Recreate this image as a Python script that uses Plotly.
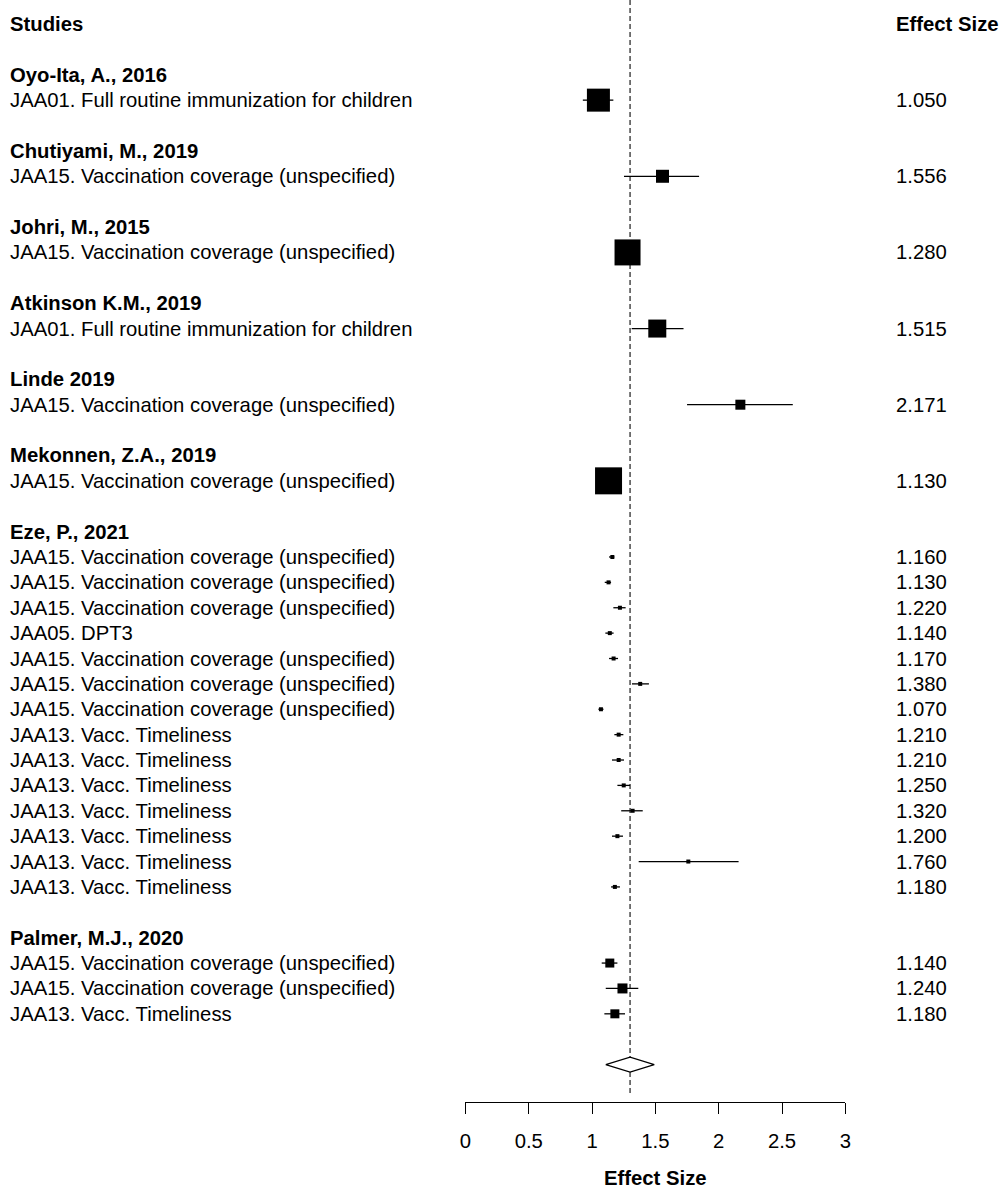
import plotly.graph_objects as go

# ---------------- data ----------------
study_names = ["Oyo-Ita, A., 2016", "Chutiyami, M., 2019", "Johri, M., 2015",
               "Atkinson K.M., 2019", "Linde 2019", "Mekonnen, Z.A., 2019",
               "Eze, P., 2021", "Palmer, M.J., 2020"]

outcomes = [
    ["JAA01. Full routine immunization for children"],
    ["JAA15. Vaccination coverage (unspecified)"],
    ["JAA15. Vaccination coverage (unspecified)"],
    ["JAA01. Full routine immunization for children"],
    ["JAA15. Vaccination coverage (unspecified)"],
    ["JAA15. Vaccination coverage (unspecified)"],
    ["JAA15. Vaccination coverage (unspecified)"] * 3 + ["JAA05. DPT3"]
    + ["JAA15. Vaccination coverage (unspecified)"] * 3
    + ["JAA13. Vacc. Timeliness"] * 7,
    ["JAA15. Vaccination coverage (unspecified)"] * 2 + ["JAA13. Vacc. Timeliness"],
]

effects = [
    [1.050], [1.556], [1.280], [1.515], [2.171], [1.130],
    [1.160, 1.130, 1.220, 1.140, 1.170, 1.380, 1.070,
     1.210, 1.210, 1.250, 1.320, 1.200, 1.760, 1.180],
    [1.140, 1.240, 1.180],
]
ci_lower = [
    [0.927], [1.252], [1.20], [1.313], [1.750], [1.05],
    [1.134, 1.100, 1.168, 1.105, 1.134, 1.315, 1.050,
     1.176, 1.157, 1.200, 1.230, 1.157, 1.368, 1.150],
    [1.076, 1.108, 1.097],
]
ci_upper = [
    [1.168], [1.845], [1.36], [1.722], [2.585], [1.21],
    [1.176, 1.150, 1.265, 1.170, 1.205, 1.449, 1.090,
     1.247, 1.252, 1.300, 1.400, 1.244, 2.157, 1.220],
    [1.200, 1.365, 1.260],
]
# relative weights (drawn as box size)
weights = [
    [23], [13], [26], [18], [10], [27],
    [4] * 14,
    [9, 10, 9],
]

pooled_est = 1.30
pooled_lower = 1.108
pooled_upper = 1.491

x_ticks = [0, 0.5, 1, 1.5, 2, 2.5, 3]
x_tick_labels = ["0", "0.5", "1", "1.5", "2", "2.5", "3"]

# ---------------- layout helpers ----------------
W, H = 1004, 1188
ROW_PX = 25.38
ROW0_PX = 24.0          # pixel y of row 0 ("Studies" header)
AXIS_PX = 1102          # pixel y of x-axis line
X0_PX, X3_PX = 465, 849.5
FS = 20.3

y_top = -ROW0_PX / ROW_PX
y_bot = (AXIS_PX - ROW0_PX) / ROW_PX

FONT = "Liberation Sans, Arial, sans-serif"

fig = go.Figure()
annotations = []

def label(xpx, row, text, bold=False, anchor="left"):
    annotations.append(dict(
        x=xpx / W, xref="paper", y=row, yref="y",
        text=f"<b>{text}</b>" if bold else text,
        showarrow=False, xanchor=anchor, yanchor="middle",
        font=dict(family=FONT, size=FS, color="black")))

LEFT_PX = 2
RIGHT_PX = 899

label(LEFT_PX, 0, "Studies", bold=True)
label(RIGHT_PX, 0, "Effect Size", bold=True)

row = 2
pts_x, pts_y, pts_s = [], [], []
ci_x, ci_y = [], []
for name, outs, effs, los, his, ws in zip(study_names, outcomes, effects,
                                          ci_lower, ci_upper, weights):
    label(LEFT_PX, row, name, bold=True)
    row += 1
    for o, e, lo, hi, w in zip(outs, effs, los, his, ws):
        label(LEFT_PX, row, o)
        label(RIGHT_PX, row, f"{e:.3f}")
        pts_x.append(e); pts_y.append(row); pts_s.append(w)
        ci_x += [lo, hi, None]; ci_y += [row, row, None]
        row += 1
    row += 1

summary_row = row
y_dash_end = y_bot - 7 / ROW_PX

# dashed reference line at pooled estimate
fig.add_trace(go.Scatter(
    x=[pooled_est, pooled_est], y=[y_top, y_dash_end], mode="lines",
    line=dict(color="#555555", width=1.6, dash="5px,3px"),
    hoverinfo="skip", showlegend=False))

# confidence intervals
fig.add_trace(go.Scatter(
    x=ci_x, y=ci_y, mode="lines", line=dict(color="black", width=1.3),
    hoverinfo="skip", showlegend=False))

# boxes
fig.add_trace(go.Scatter(
    x=pts_x, y=pts_y, mode="markers", opacity=1,
    marker=dict(symbol="square", size=pts_s, color="black", opacity=1,
                line=dict(width=0)),
    showlegend=False))

# summary diamond
dh = 7.5 / ROW_PX
fig.add_trace(go.Scatter(
    x=[pooled_lower, pooled_est, pooled_upper, pooled_est, pooled_lower],
    y=[summary_row, summary_row - dh, summary_row, summary_row + dh, summary_row],
    mode="lines", fill="toself", fillcolor="white",
    line=dict(color="black", width=1.2), hoverinfo="skip", showlegend=False))

# x axis title
annotations.append(dict(
    x=(X0_PX + X3_PX) / 2 / W, xref="paper", y=1 - 1178 / H, yref="paper",
    text="<b>Effect Size</b>", showarrow=False, xanchor="center", yanchor="middle",
    font=dict(family=FONT, size=FS, color="black")))

fig.update_layout(
    width=W, height=H,
    margin=dict(l=0, r=0, t=0, b=0),
    paper_bgcolor="white", plot_bgcolor="white",
    showlegend=False,
    annotations=annotations,
    xaxis=dict(
        domain=[X0_PX / W, X3_PX / W], range=[0, 3],
        tickvals=x_ticks, ticktext=x_tick_labels,
        showgrid=False, zeroline=False,
        showline=True, linecolor="black", linewidth=1.3,
        ticks="outside", ticklen=11, tickwidth=1.3, tickcolor="black",
        ticklabelstandoff=9,
        tickfont=dict(family=FONT, size=FS, color="black"),
        anchor="y", fixedrange=True),
    yaxis=dict(
        domain=[1 - AXIS_PX / H, 1], range=[y_bot, y_top],
        visible=False, showgrid=False, zeroline=False, fixedrange=True),
)

fig.write_html("out.html",
               config={"displayModeBar": False, "responsive": False},
               post_script="document.body.style.margin='0';"
                           "document.body.style.overflow='hidden';")
